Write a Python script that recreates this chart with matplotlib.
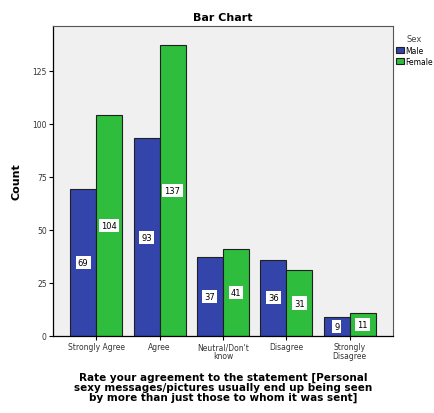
import matplotlib.pyplot as plt
import numpy as np

categories = ['Strongly Agree', 'Agree', 'Neutral/Don\'t\nknow', 'Disagree', 'Strongly\nDisagree']
male = [69, 93, 37, 36, 9]
female = [104, 137, 41, 31, 11]
series_names = ['Male', 'Female']
y_ticks = [0, 25, 50, 75, 100, 125]

fig = plt.figure(figsize=(4.35, 4.14), dpi=100)
ax = fig.add_axes([0.122, 0.186, 0.781, 0.749])
ax.set_facecolor('#F0F0F0')

x = np.arange(len(categories))
w = 0.41
b1 = ax.bar(x - w / 2, male, width=w, color='#3344AA', edgecolor='#202020', linewidth=0.8, label=series_names[0])
b2 = ax.bar(x + w / 2, female, width=w, color='#2EBD3C', edgecolor='#202020', linewidth=0.8, label=series_names[1])

for bars, vals in [(b1, male), (b2, female)]:
    for bar, v in zip(bars, vals):
        ax.text(bar.get_x() + bar.get_width() / 2, v / 2, str(v), ha='center', va='center',
                fontsize=6, color='black',
                bbox=dict(boxstyle='square,pad=0.25', fc='white', ec='none'))

ax.set_xlim(-0.68, 4.68)
ax.set_ylim(0, 146)
ax.set_yticks(y_ticks)
ax.set_yticklabels([str(t) for t in y_ticks], fontsize=5.5, color='#333333')
ax.set_xticks(x)
ax.set_xticklabels(categories, fontsize=5.5, color='#333333', linespacing=1.0)
ax.tick_params(axis='both', length=3, width=0.8, color='black', pad=1.5)

for s in ['left', 'bottom']:
    ax.spines[s].set_color('black')
    ax.spines[s].set_linewidth(0.9)
for s in ['top', 'right']:
    ax.spines[s].set_color('#555555')
    ax.spines[s].set_linewidth(0.8)

ax.set_title('Bar Chart', fontsize=8, fontweight='bold', pad=4)
ax.set_ylabel('Count', fontsize=8, fontweight='bold', labelpad=8)
ax.set_xlabel('Rate your agreement to the statement [Personal\nsexy messages/pictures usually end up being seen\nby more than just those to whom it was sent]',
              fontsize=7.5, fontweight='bold', labelpad=8, linespacing=1.0)

leg = fig.legend(handles=[b1, b2], labels=series_names, title='Sex', loc='upper left',
                 bbox_to_anchor=(0.905, 0.92), frameon=False, fontsize=5.5, title_fontsize=6,
                 handlelength=1.0, handleheight=0.8, handletextpad=0.2, borderaxespad=0.1,
                 labelspacing=0.3, borderpad=0.2)
leg.get_title().set_color('#444444')

fig.savefig('out.png', dpi=100)
